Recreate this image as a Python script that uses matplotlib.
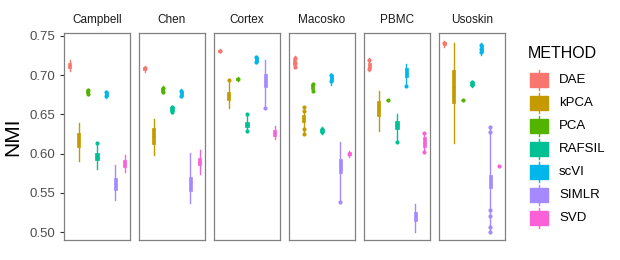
import matplotlib
matplotlib.use("Agg")
import matplotlib.pyplot as plt
from matplotlib.patches import Rectangle

plt.rcParams['font.family'] = ['Liberation Sans', 'DejaVu Sans']

datasets = ["Campbell", "Chen", "Cortex", "Macosko", "PBMC", "Usoskin"]
methods = ["DAE", "kPCA", "PCA", "RAFSIL", "scVI", "SIMLR", "SVD"]
colors = ["#F8766D", "#C49A00", "#53B400", "#00C094", "#00B6EB", "#A58AFF", "#FB61D7"]

# box stats per dataset (rows) and method (columns)
lo = [[0.705, 0.590, 0.675, 0.580, 0.671, 0.541, 0.577],
      [0.704, 0.598, 0.677, 0.652, 0.672, 0.537, 0.574],
      [0.729, 0.658, 0.693, 0.629, 0.715, 0.658, 0.619],
      [0.710, 0.625, 0.680, 0.625, 0.688, 0.538, 0.596],
      [0.705, 0.629, 0.668, 0.615, 0.686, 0.500, 0.602],
      [0.736, 0.613, 0.668, 0.685, 0.726, 0.500, 0.584]]
q1 = [[0.709, 0.608, 0.677, 0.592, 0.673, 0.554, 0.583],
      [0.706, 0.612, 0.679, 0.654, 0.674, 0.552, 0.585],
      [0.730, 0.668, 0.694, 0.634, 0.717, 0.685, 0.622],
      [0.713, 0.640, 0.682, 0.627, 0.692, 0.575, 0.598],
      [0.709, 0.648, 0.668, 0.631, 0.698, 0.514, 0.608],
      [0.738, 0.664, 0.668, 0.687, 0.730, 0.556, 0.584]]
med = [[0.713, 0.617, 0.679, 0.596, 0.676, 0.561, 0.588],
       [0.708, 0.622, 0.682, 0.657, 0.677, 0.562, 0.589],
       [0.731, 0.675, 0.695, 0.637, 0.720, 0.693, 0.626],
       [0.717, 0.645, 0.686, 0.629, 0.696, 0.583, 0.600],
       [0.713, 0.658, 0.668, 0.636, 0.703, 0.520, 0.614],
       [0.740, 0.685, 0.668, 0.689, 0.734, 0.564, 0.584]]
q3 = [[0.716, 0.626, 0.681, 0.601, 0.679, 0.569, 0.592],
      [0.710, 0.633, 0.684, 0.660, 0.680, 0.570, 0.595],
      [0.732, 0.679, 0.696, 0.640, 0.723, 0.702, 0.630],
      [0.721, 0.649, 0.689, 0.631, 0.700, 0.593, 0.602],
      [0.716, 0.667, 0.668, 0.642, 0.709, 0.526, 0.621],
      [0.742, 0.706, 0.668, 0.691, 0.738, 0.573, 0.584]]
hi = [[0.720, 0.639, 0.682, 0.614, 0.680, 0.585, 0.598],
      [0.712, 0.644, 0.686, 0.661, 0.683, 0.601, 0.604],
      [0.733, 0.694, 0.698, 0.650, 0.724, 0.720, 0.635],
      [0.724, 0.659, 0.690, 0.634, 0.702, 0.615, 0.603],
      [0.722, 0.680, 0.668, 0.650, 0.714, 0.536, 0.626],
      [0.744, 0.741, 0.668, 0.693, 0.741, 0.634, 0.584]]
# individual points drawn on top of the boxes
pts = [[[], [], [0.681, 0.676], [0.614], [0.679, 0.673], [], []],
       [[0.709], [], [0.684, 0.679], [0.659, 0.653], [0.680, 0.674], [], []],
       [[0.731], [0.694], [0.695], [0.650, 0.637, 0.629], [0.723, 0.717], [0.658], []],
       [[0.722, 0.715, 0.711], [0.659, 0.654, 0.631, 0.625], [0.689, 0.680],
        [0.631, 0.627], [0.700, 0.693], [0.538], [0.600]],
       [[0.720, 0.708], [], [0.668], [0.615], [0.686], [], [0.626, 0.602]],
       [[0.741], [], [0.668], [0.691, 0.687], [0.739, 0.734, 0.730],
        [0.634, 0.628, 0.528, 0.521, 0.507, 0.500], [0.584]]]

fig = plt.figure(figsize=(6.2, 2.6), dpi=100)
W, H = 620, 260
left, pw, gap = 64, 66, 9
top, bottom = 33, 240

for d, name in enumerate(datasets):
    x0 = left + d * (pw + gap)
    ax = fig.add_axes([x0 / W, 1 - bottom / H, pw / W, (bottom - top) / H])
    stats = []
    for m in range(len(methods)):
        stats.append(dict(whislo=lo[d][m], q1=q1[d][m], med=med[d][m],
                          q3=q3[d][m], whishi=hi[d][m], fliers=[]))
    bp = ax.bxp(stats, positions=range(1, len(methods) + 1), widths=0.36,
                patch_artist=True, showcaps=False)
    for m, c in enumerate(colors):
        bp['boxes'][m].set(facecolor=c, edgecolor=c, linewidth=0.5)
        bp['medians'][m].set(color=c, linewidth=0.6)
        for w in bp['whiskers'][2 * m:2 * m + 2]:
            w.set(color=c, linewidth=1.0)
        if pts[d][m]:
            ax.plot([m + 1] * len(pts[d][m]), pts[d][m], 'o', color=c,
                    markersize=3, markeredgewidth=0)
    ax.set_xlim(0.4, 7.6)
    ax.set_ylim(0.4898, 0.7538)
    ax.set_xticks([])
    for s in ax.spines.values():
        s.set_color("#808080")
        s.set_linewidth(0.9)
    ax.set_title(name, fontsize=8.5, pad=7, color="#1a1a1a")
    if d == 0:
        ax.set_yticks([0.50, 0.55, 0.60, 0.65, 0.70, 0.75])
        ax.set_yticklabels(["0.50", "0.55", "0.60", "0.65", "0.70", "0.75"])
        ax.tick_params(axis='y', labelsize=9.5, labelcolor="#4d4d4d",
                       color="#333333", length=3, width=0.8)
        ax.set_ylabel("NMI", fontsize=15, labelpad=5)
    else:
        ax.set_yticks([])

# legend drawn in pixel space
lg = fig.add_axes([0, 0, 1, 1], zorder=-1)
lg.set_xlim(0, W)
lg.set_ylim(H, 0)
lg.axis('off')
lg.text(528, 53, "METHOD", fontsize=11.5, va='center', ha='left')
for m, (lab, c) in enumerate(zip(methods, colors)):
    yc = 80 + 23 * m
    lg.plot([539, 539], [yc - 10, yc + 10], color=c, linewidth=1)
    lg.add_patch(Rectangle((530, yc - 7), 18, 14, facecolor=c, edgecolor=c))
    lg.text(559, yc, lab, fontsize=9.5, va='center', ha='left')

fig.savefig("out.png", dpi=100)
